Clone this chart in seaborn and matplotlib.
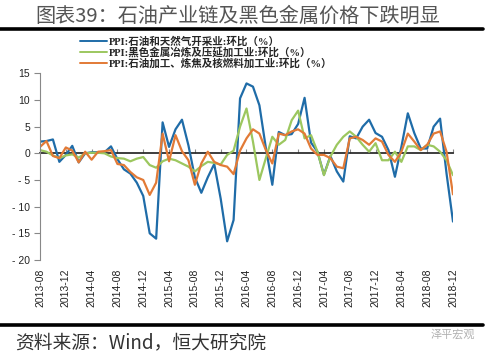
import pandas as pd
import seaborn as sns
import matplotlib.pyplot as plt

months = pd.date_range('2013-08-01', '2018-12-01', freq='MS').strftime('%Y-%m').tolist()
tick_labels = ['2013-08', '2013-12', '2014-04', '2014-08', '2014-12', '2015-04', '2015-08',
               '2015-12', '2016-04', '2016-08', '2016-12', '2017-04', '2017-08', '2017-12',
               '2018-04', '2018-08', '2018-12']

oil_gas = [2.2, 2.3, 2.6, -1.6, -0.3, 1.4, -1.7, 0.0, 0.2, 0.2, 0.2, 1.3, -1.1, -3.0, -3.8, -5.5,
           -8.0, -15.0, -16.0, 5.8, 1.2, 4.5, 6.3, 1.5, -4.5, -7.4, -4.5, -2.0, -8.5, -16.5, -12.5,
           10.3, 13.1, 12.5, 9.0, 1.0, -5.9, 4.0, 3.4, 3.6, 5.5, 10.4, 2.0, 0.3, -4.0, -0.5, -3.4,
           -5.3, 3.2, 2.8, 5.0, 6.3, 3.8, 3.1, 0.6, -4.4, 1.2, 7.5, 3.8, 0.9, 0.9, 5.0, 6.5, -3.8,
           -12.8]
ferrous = [0.6, 0.3, -0.4, -0.9, -0.4, -0.2, -0.8, 0.0, 0.1, 0.1, 0.0, -0.6, -0.9, -1.0, -1.5,
           -1.0, -0.7, -2.2, -2.7, -1.5, -1.0, -1.3, -1.9, -2.5, -3.4, -2.4, -1.6, -1.8, -2.1,
           -0.3, 0.5, 5.0, 8.4, 2.2, -5.0, -0.9, 3.1, 1.6, 2.5, 6.2, 8.0, 2.8, 3.4, 0.3, -4.1,
           -0.6, 1.6, 3.1, 4.1, 3.1, 1.6, 0.3, 1.9, -1.3, -1.3, 0.3, -1.6, 1.3, 1.3, 0.6, 1.6,
           1.3, 0.3, -1.3, -4.1]
refining = [1.2, 2.3, -0.5, -0.9, 1.1, 0.5, -1.7, 0.3, -1.2, 0.3, 0.4, 0.6, -2.0, -2.2, -3.5,
            -4.5, -5.0, -7.8, -5.5, 3.7, -1.5, 3.4, 0.4, -1.3, -5.9, -1.9, 0.3, -1.6, -2.2, -2.5,
            -3.9, 0.5, 2.8, 4.5, 3.7, 0.6, -1.9, 3.7, 3.4, 4.1, 4.5, 3.7, 0.9, -0.3, -0.3, -0.9,
            -2.5, -2.8, 2.8, 3.1, 2.5, 1.6, 2.8, 2.2, -0.3, -1.6, 0.3, 3.7, 2.2, 0.6, 1.6, 3.7,
            4.1, 0.3, -7.7]

names = ['PPI:石油和天然气开采业:环比（%）',
         'PPI:黑色金属冶炼及压延加工业:环比（%）',
         'PPI:石油加工、炼焦及核燃料加工业:环比（%）']
colors = ['#1f6ca8', '#9cc75f', '#e27a36']

frames = []
for name, vals in zip(names, [oil_gas, ferrous, refining]):
    frames.append(pd.DataFrame({'idx': range(len(months)), 'month': months,
                                'value': vals, 'series': name}))
df = pd.concat(frames, ignore_index=True)

sns.set_theme(style='white')
plt.rcParams['font.family'] = ['Liberation Sans', 'Noto Sans CJK SC', 'DejaVu Sans']
plt.rcParams['axes.unicode_minus'] = False

fig = plt.figure(figsize=(4.86, 3.54), dpi=100)
ax = fig.add_axes([40 / 486, 1 - 260 / 354, (453 - 40) / 486, (260 - 73.3) / 354])

sns.lineplot(data=df, x='idx', y='value', hue='series', hue_order=names,
             palette=colors, linewidth=1.6, ax=ax, legend=True)

ax.set_xlim(0, len(months) - 1)
ax.set_ylim(-20, 15)
ax.set_xlabel('')
ax.set_ylabel('')

xt = [months.index(t) for t in tick_labels]
ax.set_xticks(xt)
ax.set_xticklabels(tick_labels, rotation=90, fontsize=7.5, color='#222222')
ax.tick_params(axis='x', length=0, pad=6)
yt = [-20, -15, -10, -5, 0, 5, 10, 15]
ax.set_yticks(yt)
ax.set_yticklabels([('- ' + str(abs(v))) if v < 0 else str(v) for v in yt],
                   fontsize=7.5, color='#222222')
ax.tick_params(axis='y', direction='out', length=4, width=0.8, color='#888888',
               left=True, pad=3)

for s in ['top', 'right', 'bottom']:
    ax.spines[s].set_visible(False)
ax.spines['left'].set_color('#888888')
ax.spines['left'].set_linewidth(0.8)

# category axis crosses at zero
zero_axis = ax.secondary_xaxis(20 / 35)
zero_axis.set_xticks(xt)
zero_axis.set_xticklabels([])
zero_axis.tick_params(direction='out', length=3, width=0.8, color='#888888')
zero_axis.spines['bottom'].set_color('#888888')
zero_axis.spines['bottom'].set_linewidth(0.8)

leg = ax.legend(loc='upper left', bbox_to_anchor=(80 / 486, 1 - 36 / 354),
                bbox_transform=fig.transFigure, frameon=False, borderpad=0,
                borderaxespad=0, handlelength=2.6, handletextpad=0.15,
                labelspacing=0.02, prop={'family': ['Liberation Serif', 'Noto Sans CJK SC'],
                                         'weight': 'bold', 'size': 7.6})
for line in leg.get_lines():
    line.set_linewidth(1.4)

fig.text(35 / 486, 1 - 16 / 354, '图表39：石油产业链及黑色金属价格下跌明显',
         fontsize=14.5, color='#555555', va='center', ha='left', weight='light',
         family=['Noto Sans CJK SC', 'DejaVu Sans'])
fig.add_artist(plt.Line2D([0, 483 / 486], [1 - 29 / 354, 1 - 29 / 354],
                          color='black', linewidth=2.6, transform=fig.transFigure))
fig.add_artist(plt.Line2D([0, 483 / 486], [1 - 325 / 354, 1 - 325 / 354],
                          color='black', linewidth=2.6, transform=fig.transFigure))
fig.text(15 / 486, 1 - 343 / 354, '资料来源：Wind，恒大研究院', fontsize=13.5,
         color='#333333', va='center', ha='left', style='italic', weight='light',
         family=['Noto Sans CJK SC', 'DejaVu Sans'])
fig.text(475 / 486, 1 - 334 / 354, '泽平宏观', fontsize=8, color='#b0b0b0',
         va='center', ha='right', family=['Noto Sans CJK SC', 'DejaVu Sans'])

fig.savefig('out.png', dpi=100)
